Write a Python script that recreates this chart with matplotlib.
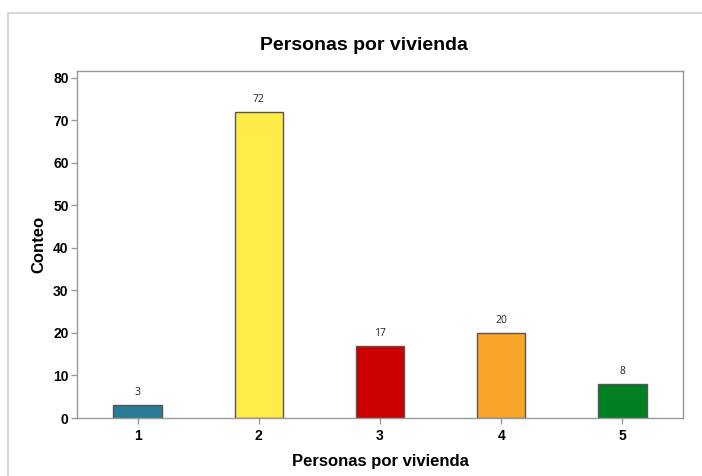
import matplotlib
matplotlib.use("Agg")
import matplotlib.pyplot as plt
from matplotlib.patches import Rectangle

# data
categories = ['1', '2', '3', '4', '5']
counts = [3, 72, 17, 20, 8]
bar_colors = ['#2A7B96', '#FFEB47', '#CC0000', '#F8A529', '#008020']

plt.rcParams['font.family'] = ['Liberation Sans', 'DejaVu Sans']

fig = plt.figure(figsize=(7.02, 4.76), dpi=100)
ax = fig.add_axes([77/702, 1 - 418/476, (683 - 77)/702, (418 - 71)/476])

# outer light frame
fig.patches.append(Rectangle((8/702, -0.1), 1.2, 1 - 13/476 + 0.1, transform=fig.transFigure,
                             fill=False, edgecolor='#d0d0d0', linewidth=1.2))

x = range(1, len(counts) + 1)
bars = ax.bar(x, counts, width=0.4, color=bar_colors, edgecolor='#555555', linewidth=1)
for xi, c in zip(x, counts):
    ax.text(xi, c + 1.6, str(c), ha='center', va='bottom', fontsize=7.5,
            family=['Open Sans', 'DejaVu Sans'], color='#222222')

ax.set_xlim(0.5, 5.5)
ax.set_ylim(0, 81.6)
ax.set_xticks(list(x))
ax.set_xticklabels(categories)
ax.set_yticks(range(0, 81, 10))
for lab in ax.get_xticklabels() + ax.get_yticklabels():
    lab.set_fontweight('bold')
    lab.set_fontsize(10)
ax.tick_params(axis='both', color='#999999', length=4, width=1, pad=2)
ax.tick_params(axis='x', pad=4)

for sp in ax.spines.values():
    sp.set_color('#999999')
    sp.set_linewidth(1)

fig.text(364/702, 1 - 46/476, 'Personas por vivienda', ha='center', va='center',
         fontsize=14, fontweight='bold')
ax.set_xlabel('Personas por vivienda', fontsize=12, fontweight='bold', labelpad=8)
ax.set_ylabel('Conteo', fontsize=12, fontweight='bold', labelpad=5)

fig.savefig('out.png', dpi=100, facecolor='white')
